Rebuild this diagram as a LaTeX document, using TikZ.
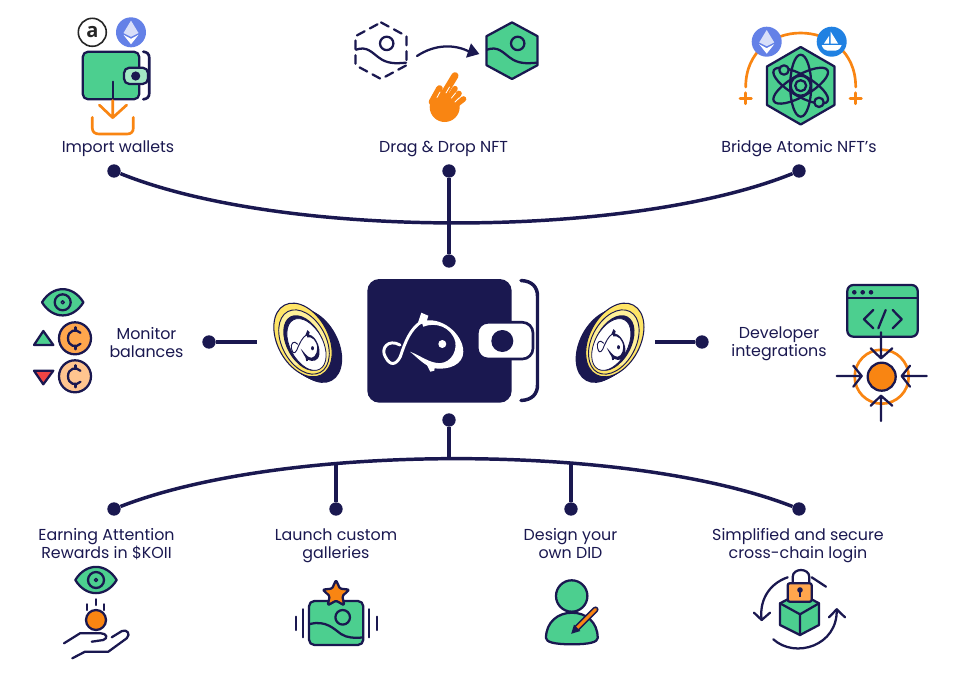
\documentclass[tikz,border=0pt]{standalone}
\usepackage{fontspec}
\setmainfont{Poppins}
\newfontfamily\badgefont{Open Sans}
\usetikzlibrary{positioning,shapes.geometric,arrows.meta}
\definecolor{navy}{HTML}{1A1850}
\definecolor{mint}{HTML}{4CCF8F}
\definecolor{palemint}{HTML}{A3E8C5}
\definecolor{tangerine}{HTML}{F98512}
\definecolor{apricot}{HTML}{FFA64D}
\definecolor{peach}{HTML}{FFC48F}
\definecolor{goldrim}{HTML}{FFE566}
\definecolor{palerim}{HTML}{FFF099}
\definecolor{ethblue}{HTML}{6481E7}
\definecolor{seablue}{HTML}{2081E2}
\definecolor{alarm}{HTML}{EE4444}
\tikzset{
  % Specifications for style of nodes:
  every pic/.style = {yscale=-1},
  caption/.style = {
    text=navy,
    align=center,
    font=\fontsize{11.9}{13.5}\selectfont
  },
  hub/.style = {
    circle,
    fill=navy,
    inner sep=0pt,
    minimum size=10pt
  },
  link/.style = {
    draw=navy,
    line width=2.6pt
  },
  icon/.style = {
    draw=navy,
    line width=1.7pt,
    line join=round,
    line cap=round
  },
  accent/.style = {
    draw=tangerine,
    line width=2pt,
    line join=round,
    line cap=round
  },
  % Small pictures that come back more than once:
  pics/ethbadge/.style = {code={
    \fill[ethblue] (0,0) circle (15);
    \fill[white!75!ethblue] (0,-11.7) -- (7.5,0.7) -- (0,4.5) -- (-7.5,0.7) -- cycle;
    \fill[white] (0,6.5) -- (7.5,2.5) -- (0,12) -- (-7.5,2.5) -- cycle;
  }},
  pics/eyeball/.style = {code={
    \draw[icon, fill=mint] (-20.7,0) .. controls (-10,-17.5) and (10,-17.5) .. (20.7,0)
      .. controls (10,17.5) and (-10,17.5) .. cycle;
    \draw[icon] (0,0) circle (8);
    \draw[icon, line width=1pt] (0,0) circle (1.6);
  }},
  pics/cedi/.style = {code={
    \draw[icon, fill=#1] (0,0) circle (16);
    \draw[icon] (5.5,-5.5) .. controls (1,-10) and (-7,-8) .. (-7,0)
      .. controls (-7,8) and (1,10) .. (5.5,5.5);
    \draw[icon] (0.5,-11) -- (0.5,-7.5) (0.5,7.5) -- (0.5,11);
  }},
  pics/hexframe/.style 2 args = {code={
    \draw[icon, fill=#1, #2] (0,-28.3) -- (25.5,-14.5) -- (25.5,14.5) -- (0,28.3)
      -- (-25.5,14.5) -- (-25.5,-14.5) -- cycle;
  }},
  pics/hexscene/.style = {code={
    \draw[icon] (5.7,-7.3) circle (6.7);
    \draw[icon] (-25,-1) .. controls (-14,-5) and (-9,2) .. (-2,7)
      .. controls (6,13) and (14,13) .. (25,12);
  }},
  pics/fishmark/.style 2 args = {code={
    \fill[#1] (-1.7,-20) .. controls (16.7,-26.7) and (40,-8.3) .. (40,10)
      .. controls (40,23.3) and (25,28.3) .. (11.7,26.7)
      .. controls (1.7,25) and (-6.7,15) .. (-13.3,10)
      .. controls (-5,13) and (3,19) .. (11.7,21)
      .. controls (25,24) and (34,12) .. (32,0)
      .. controls (28,-15) and (12,-20) .. (0,-15) -- cycle;
    \draw[#1, line width=#2, line cap=round] (-23.3,3.3) .. controls (-35,-3.3) and (-43,6.7) .. (-38,15)
      .. controls (-33,25) and (-27,23) .. (-23,15)
      .. controls (-18,0) and (-13,-13) .. (-1.7,-20);
    \fill[#1] (-6,-17) -- (-2,-29) -- (5,-26) -- (3,-19) -- cycle;
    \fill[#1] (3,22) -- (12,21) -- (11,29) -- (7,30) -- cycle;
    \fill[#1] (19,2.3) circle (4);
  }},
  pics/coinbody/.style = {code={
    % the thick side first, then the face
    \foreach \sidex/\sidey in {-2/-1.5,0/0,2/1,4/2,6/3} {
      \fill[navy, shift={(\sidex,\sidey)}, rotate=-28] (0,0) ellipse (25.5 and 39.5);
    }
    \fill[goldrim, shift={(-4,-3)}, rotate=-28] (0,0) ellipse (25.5 and 39.5);
    \draw[navy, line width=0.8pt, shift={(-4,-3)}, rotate=-28] (0,0) ellipse (25.5 and 39.5);
    \begin{scope}
      \clip[shift={(-3,-1)}, rotate=-28] (0,0) ellipse (22 and 34.5);
      \fill[palerim] (-40,-50) rectangle (40,50);
      \fill[goldrim] (-40,22) rectangle (40,50);
    \end{scope}
    \draw[navy, line width=0.7pt, shift={(-3,-1)}, rotate=-28] (0,0) ellipse (22 and 34.5);
    \fill[navy, shift={(-2.5,0)}, rotate=-28] (0,0) ellipse (18 and 30);
    \draw[navy, line width=0.6pt, fill=white, shift={(-0.5,1.5)}, rotate=-28] (0,0) ellipse (16.5 and 28);
  }},
}
\begin{document}
\begin{tikzpicture}[x=0.75pt,y=0.75pt,yscale=-1]
  \useasboundingbox (0,0) rectangle (954,682);
  \fill[white] (0,0) rectangle (954,682);

  % Specification of hubs and of the connectors between them
  \node[hub] (dotWallets)  at (114,171) {};
  \node[hub] (dotDrag)     at (449,171) {};
  \node[hub] (dotBridge)   at (799,171) {};
  \node[hub] (dotCoreTop)  at (449,261) {};
  \node[hub] (dotCoreLow)  at (449,420) {};
  \node[hub] (dotBalance)  at (209,342) {};
  \node[hub] (dotDevelop)  at (702,342) {};
  \node[hub] (dotEarning)  at (114,509) {};
  \node[hub] (dotGallery)  at (336,509) {};
  \node[hub] (dotDesign)   at (571,509) {};
  \node[hub] (dotLogin)    at (799,509) {};
  \coordinate (coinLeft)   at (257,342);
  \coordinate (coinRight)  at (655,342);
  \coordinate (archCentre) at (449,459);
  \coordinate (archGallery) at (336,464);
  \coordinate (archDesign)  at (571,464);
  \draw[link] (dotWallets) .. controls (284,239.4) and (629,239.4) .. (dotBridge);
  \draw[link] (dotDrag) -- (dotCoreTop);
  \draw[link] (dotEarning) .. controls (284,442.7) and (629,442.7) .. (dotLogin);
  \draw[link] (dotCoreLow) -- (archCentre);
  \draw[link] (dotGallery) -- (archGallery);
  \draw[link] (dotDesign) -- (archDesign);
  \draw[link] (dotBalance) -- (coinLeft);
  \draw[link] (dotDevelop) -- (coinRight);

  % Captions
  \node[caption] (capWallets) at (118,149)   {Import wallets};
  \node[caption] (capDrag)    at (443.5,149) {Drag \& Drop NFT};
  \node[caption] (capBridge)  at (799,149)   {Bridge Atomic NFT’s};
  \node[caption] (capBalance) at (146.5,343) {Monitor\\balances};
  \node[caption] (capDevelop) at (779,344)   {Developer\\integrations};
  \node[caption] (capEarning) at (106.5,544) {Earning Attention\\Rewards in \$KOII};
  \node[caption] (capGallery) at (336,546)   {Launch custom\\galleries};
  \node[caption] (capDesign)  at (570.5,544) {Design your\\own DID};
  \node[caption] (capLogin)   at (798,546)   {Simplified and secure\\cross-chain login};

  % Central wallet
  \fill[navy, rounded corners=9pt] (367.3,279) rectangle (511.7,402.7);
  \draw[navy, line width=2.6pt, line cap=round] (521,280.5) .. controls (532,281) and (537.5,287) .. (537.5,296)
    -- (537.5,385) .. controls (537.5,394) and (532,400) .. (521,400.5);
  \draw[navy, fill=white, line width=2pt, rounded corners=8pt] (477.3,322.3) rectangle (533,359);
  \fill[navy] (502.3,341) circle (11);
  \pic at (423.3,341.7) {fishmark={white}{2.2pt}};

  % Coins beside the wallet
  \pic at (307,343) {coinbody};
  \pic[xscale=0.36, yscale=0.52, rotate=-12] at (306,345) {fishmark={navy}{0.7pt}};
  \pic[xscale=-1] at (610.8,343) {coinbody};
  \pic[xscale=0.36, yscale=0.52, rotate=-12] at (612,344) {fishmark={navy}{0.7pt}};

  % Import wallets
  \node[circle, draw=black!85, line width=1.2pt, minimum size=21pt, inner sep=0pt,
    font=\badgefont\bfseries\fontsize{15}{15}\selectfont, text=black!85] (arBadge) at (92.3,32.3) {a};
  \pic at (131,32.3) {ethbadge};
  \draw[icon, fill=mint, rounded corners=4pt] (82.7,51.7) rectangle (139.3,99.3);
  \draw[icon, line width=2pt] (143.3,51.7) .. controls (147,52) and (149.3,54) .. (149.3,58) -- (149.3,93)
    .. controls (149.3,97) and (147,99) .. (143.3,99.3);
  \draw[icon, fill=palemint, rounded corners=4pt] (124,67.7) rectangle (148,84);
  \fill[navy] (135.7,76) circle (4.6);
  \draw[icon] (112.7,81.7) -- (112.7,99);
  \draw[accent] (112.7,100.5) -- (112.7,117.7) (99.3,105) -- (112.7,117.7) -- (126.7,105);
  \draw[accent] (92.3,117.3) -- (92.3,128) .. controls (92.3,132) and (95,134) .. (99,134) -- (127,134)
    .. controls (131,134) and (133.3,132) .. (133.3,128) -- (133.3,117.3);

  % Drag and drop
  \pic at (381,50.7) {hexframe={white}{dash pattern=on 6.5pt off 4.5pt}};
  \pic at (381,50.7) {hexscene};
  \pic at (512,50.7) {hexframe={mint}{}};
  \pic at (512,50.7) {hexscene};
  \draw[icon] (417,56) .. controls (435,44) and (455,44) .. (470,52);
  \fill[navy] (479.3,54) -- (471,43.3) -- (466,57.7) -- cycle;
  \fill[tangerine] (444.7,107) circle (15);
  \draw[tangerine, line width=5.3pt, line cap=round] (455,75.7) -- (443.3,95);
  \draw[tangerine, line width=5pt, line cap=round] (439.5,88.5) -- (432,102);
  \draw[tangerine, line width=4.2pt, line cap=round] (455,88.7) -- (448,100);
  \draw[tangerine, line width=4.2pt, line cap=round] (459,93.5) -- (450,104);
  \draw[tangerine, line width=4.2pt, line cap=round] (463.5,99) -- (452,108);
  \draw[white, line width=0.6pt, line cap=round] (440,92) -- (437,97.5) (449.5,87) -- (446,93)
    (455.5,93) -- (451.5,98) (459,98) -- (455,102);

  % Bridge atomic
  \draw[accent] (745.7,87) .. controls (745.7,15) and (855.7,15) .. (855.7,87);
  \draw[accent] (740,98.3) -- (751.4,98.3) (745.7,92.8) -- (745.7,103.8);
  \draw[accent] (850,98.3) -- (861.4,98.3) (855.7,92.8) -- (855.7,103.8);
  \pic at (766.7,41.7) {ethbadge};
  \fill[seablue] (831.7,41.7) circle (15);
  \fill[white] (830.7,31.7) -- (838,43.5) -- (830.7,43.5) -- cycle;
  \fill[white] (829,36) -- (829,43.5) -- (824,43.5) -- cycle;
  \fill[white] (821.7,45) -- (841.7,45) .. controls (840,49) and (838,50.5) .. (836,50.5)
    -- (827,50.5) .. controls (825,50.5) and (823,49) .. (821.7,45) -- cycle;
  \draw[icon, fill=mint] (800.7,47) -- (834.5,66.5) -- (834.5,105) -- (800.7,124.5)
    -- (767,105) -- (767,66.5) -- cycle;
  \draw[icon] (800.7,85.7) ellipse (10.5 and 31);
  \draw[icon, rotate around={60:(800.7,85.7)}] (800.7,85.7) ellipse (10.5 and 31);
  \draw[icon, rotate around={-60:(800.7,85.7)}] (800.7,85.7) ellipse (10.5 and 31);
  \draw[icon] (800.7,85.7) circle (5.5);
  \draw[icon] (800.7,85.7) circle (10);
  \draw[icon, fill=mint] (784,70) circle (4.7);
  \draw[icon, fill=mint] (819,102.3) circle (4.7);

  % Monitor balances
  \pic at (62.7,302.3) {eyeball};
  \draw[icon, fill=mint] (34,345) -- (53.3,345) -- (43.3,331) -- cycle;
  \draw[icon, fill=alarm] (34,370.7) -- (53.3,370.7) -- (43.3,384.3) -- cycle;
  \pic at (75,338.3) {cedi=apricot};
  \pic at (75,376.3) {cedi=peach};

  % Developer integrations
  \draw[accent] (881.7,376.7) circle (27);
  \draw[icon, fill=mint, rounded corners=4.5pt] (847.3,285) rectangle (917.7,336.7);
  \draw[icon] (847.3,298.3) -- (917.7,298.3);
  \foreach \dotx in {854.3,862.7,871} {
    \fill[navy] (\dotx,292.3) circle (2.3);
  }
  \draw[icon] (873.3,310) -- (864,319.3) -- (873.3,328.3);
  \draw[icon] (885.7,310) -- (878.3,328.3);
  \draw[icon] (892.7,310) -- (901.7,319.3) -- (892.7,328.3);
  \draw[icon, fill=tangerine] (881.7,376.7) circle (14);
  \draw[icon] (881,332.3) -- (881,358.3) (870.7,348.3) -- (881,358.3) -- (892.3,348.3);
  \draw[icon] (836.7,376) -- (861.7,376) (853.3,365.7) -- (861.7,376) -- (853.3,386.7);
  \draw[icon] (926.7,376) -- (901.7,376) (910,365.7) -- (901.7,376) -- (910,386.7);
  \draw[icon] (881,421) -- (881,395.7) (870.7,405.7) -- (881,395.7) -- (892.3,405.7);

  % Earning attention rewards
  \pic at (96,580) {eyeball};
  \draw[icon] (96,599.3) -- (96,605) (87.3,604.3) -- (87.3,610) (104,604.3) -- (104,610);
  \draw[icon, fill=tangerine] (96,620) circle (10);
  \draw[icon] (64,643.3) -- (80,633.3) -- (101,633.3) .. controls (106,633.3) and (109,638) .. (103.3,640) -- (91.7,641.7);
  \draw[icon] (111.7,637.3) -- (122,631) .. controls (127,629) and (131,634) .. (126.7,638.3)
    -- (108.3,651.7) -- (85,651.7) -- (72.3,658.3);

  % Launch custom galleries
  \draw[icon, fill=mint, rounded corners=4pt] (309,601) rectangle (363.3,645);
  \draw[icon] (342.7,617.3) circle (7.3);
  \draw[icon] (310,624) .. controls (326,620) and (334,629) .. (341,634) .. controls (347,638) and (354,638) .. (363,637.5);
  \node[star, star points=5, star point ratio=2.1, draw=navy, fill=tangerine, line width=1.7pt,
    line join=round, inner sep=0pt, minimum size=21pt, rounded corners=1pt] (galleryStar) at (336,594) {};
  \draw[icon] (303.3,609.3) -- (303.3,637.3) (296,616.7) -- (296,630);
  \draw[icon] (369.3,609.3) -- (369.3,637.3) (376.7,616.7) -- (376.7,630);

  % Design your own DID
  \draw[icon, fill=mint] (571.7,596) circle (15.7);
  \draw[icon, fill=mint] (546,638) .. controls (546,622) and (558,612.7) .. (572,612.7)
    .. controls (586,612.7) and (597.7,622) .. (597.7,638)
    .. controls (597.7,642) and (590,644.3) .. (572,644.3)
    .. controls (554,644.3) and (546,642) .. (546,638) -- cycle;
  \draw[navy, line width=4.6pt, line cap=round] (577,628) -- (595.5,609.5);
  \draw[tangerine, line width=2.2pt, line cap=round] (577,628) -- (595.5,609.5);
  \fill[navy] (571.2,633.8) -- (574,624.6) -- (580.4,631) -- cycle;

  % Simplified login
  \draw[icon] (787.7,577.3) .. controls (768,584) and (759,602) .. (761.7,620);
  \draw[icon] (754,612.7) -- (761.7,620) -- (770,612.7);
  \draw[icon] (811.7,577.3) -- (826,586.7);
  \draw[icon] (773.3,639.3) .. controls (795,659) and (838,646) .. (836.7,609.3);
  \draw[icon] (829,617.3) -- (836.7,609.3) -- (845,617.3);
  \draw[icon, fill=mint] (800,593) -- (819,603.3) -- (819,625) -- (800,635) -- (780,625) -- (780,603.3) -- cycle;
  \draw[icon] (780,603.3) -- (800,614.3) -- (819,603.3) (800,614.3) -- (800,635);
  \draw[icon] (792.7,583) -- (792.7,577) .. controls (792.7,567.7) and (809.3,567.7) .. (809.3,577) -- (809.3,583);
  \draw[icon, fill=apricot, rounded corners=1.5pt] (787.7,583.3) rectangle (811.7,601.7);
  \fill[navy] (800,590) circle (2.8);
  \draw[navy, line width=1.5pt] (800,590) -- (800,597.3);
\end{tikzpicture}
\end{document}
